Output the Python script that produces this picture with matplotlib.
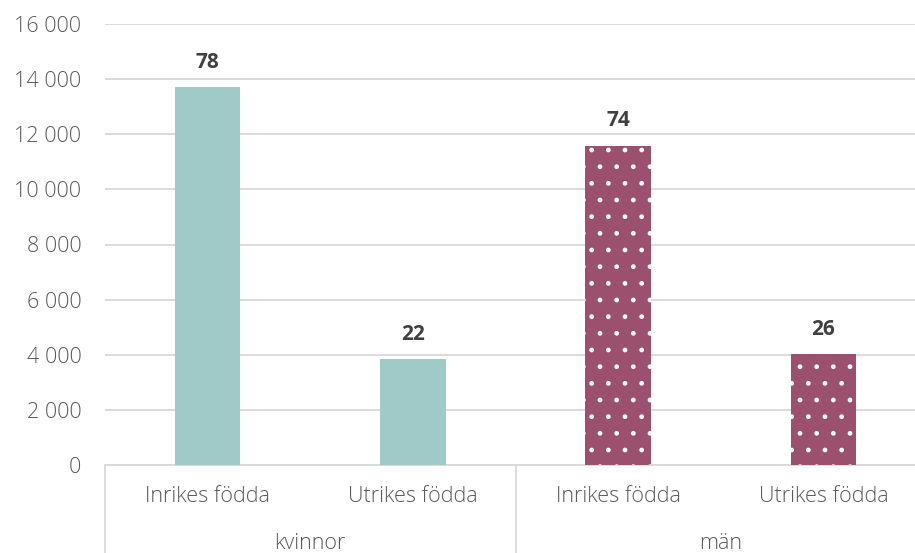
import matplotlib.pyplot as plt
from matplotlib.ticker import FuncFormatter, MultipleLocator

groups = ["kvinnor", "män"]
categories = ["Inrikes födda", "Utrikes födda", "Inrikes födda", "Utrikes födda"]
counts = [13700, 3850, 11580, 4030]
shares = [78, 22, 74, 26]
group_of_bar = [0, 0, 1, 1]

teal = "#9fcac8"
maroon = "#9b506e"
text_gray = "#595959"
grid_gray = "#d9d9d9"

plt.rcParams["font.family"] = ["Open Sans", "DejaVu Sans"]
light = dict(fontsize=15.5, fontweight="light", color=text_gray)

fig = plt.figure(figsize=(9.15, 5.53), dpi=100)
# the last category runs a little past the right edge of the picture
ax = fig.add_axes([105 / 915, 88 / 553, 821 / 915, 441 / 553])

x = list(range(len(categories)))
for i, (xi, v) in enumerate(zip(x, counts)):
    if group_of_bar[i] == 0:
        ax.bar(xi, v, width=0.32, color=teal, linewidth=0, zorder=3)
    else:
        ax.bar(xi, v, width=0.32, color=maroon, edgecolor="white",
               linewidth=0, hatch=".", zorder=3)
    ax.text(xi, v + 520, str(shares[i]), ha="center", va="bottom",
            fontsize=15, fontweight="bold", color="#404040")

ax.set_xlim(-0.5, len(categories) - 0.5)
ax.set_ylim(0, 16000)
ax.yaxis.set_major_locator(MultipleLocator(2000))
ax.yaxis.set_major_formatter(FuncFormatter(lambda v, p: f"{v:,.0f}".replace(",", " ")))
ax.grid(axis="y", color=grid_gray, linewidth=1.3, zorder=0)
ax.tick_params(axis="y", length=0, labelsize=15.5, labelcolor=text_gray, pad=17)
for lab in ax.get_yticklabels():
    lab.set_fontweight("light")
ax.set_xticks([])
for s in ["top", "right", "left"]:
    ax.spines[s].set_visible(False)
ax.spines["bottom"].set_color(grid_gray)
ax.spines["bottom"].set_linewidth(1.3)

# category labels and group labels below the axis
for xi, c in zip(x, categories):
    ax.text(xi, -0.072, c, transform=ax.get_xaxis_transform(), ha="center",
            va="center", **light)
for g, name in enumerate(groups):
    ax.text(g * 2 + 0.5, -0.177, name, transform=ax.get_xaxis_transform(),
            ha="center", va="center", **light)

# separators between groups
for xs in [-0.5, 1.5, 3.5]:
    ax.plot([xs, xs], [0, -0.2], transform=ax.get_xaxis_transform(),
            color=grid_gray, linewidth=1.3, clip_on=False)

fig.savefig("out.png", dpi=100)
